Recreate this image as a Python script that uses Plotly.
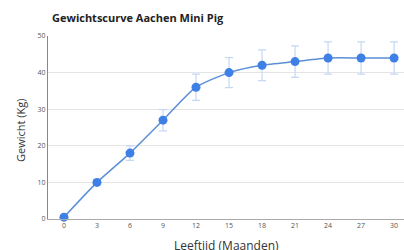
import plotly.graph_objects as go

months = [0, 3, 6, 9, 12, 15, 18, 21, 24, 27, 30]
weight = [0.5, 10, 18, 27, 36, 40, 42, 43, 44, 44, 44]
error = [0.3, 0.6, 2.0, 2.9, 3.6, 4.1, 4.2, 4.3, 4.4, 4.4, 4.4]
x_ticks = [0, 3, 6, 9, 12, 15, 18, 21, 24, 27, 30]
y_ticks = [0, 10, 20, 30, 40, 50]

fig = go.Figure()
fig.add_trace(go.Scatter(
    x=months, y=weight, mode="lines+markers",
    line=dict(color="#5b8fd6", width=1.5, shape="spline", smoothing=0.6),
    marker=dict(color="#3f80e6", size=9),
    error_y=dict(type="data", array=error, visible=True,
                 color="#c5d8f3", thickness=1.2, width=4),
    showlegend=False,
    cliponaxis=False,
))

W, H = 404, 250
L, R, T, B = 48, 0, 36, 31
pw, ph = W - L - R, H - T - B


def px(xp):
    return (xp - L) / pw


def py(yp):
    return (H - B - yp) / ph


fig.update_layout(
    width=W, height=H,
    margin=dict(l=L, r=R, t=T, b=B),
    paper_bgcolor="white", plot_bgcolor="white",
    font=dict(family="Open Sans", color="#444"),
    xaxis=dict(range=[-1.45, 30.9], tickvals=x_ticks, showgrid=False,
               showline=True, linecolor="#aaaaaa", linewidth=1, automargin=False,
               tickfont=dict(size=7, color="#555"), ticks="", zeroline=False),
    yaxis=dict(range=[0, 50], tickvals=y_ticks, showgrid=True, gridcolor="#e4e4e4",
               showline=True, linecolor="#888888", linewidth=1, automargin=False,
               tickfont=dict(size=7, color="#555"), ticks="", zeroline=False),
)
fig.add_annotation(text="<b>Gewichtscurve Aachen Mini Pig</b>", xref="paper", yref="paper",
                   x=px(50), y=py(17), xanchor="left", yanchor="middle", showarrow=False,
                   font=dict(size=11, color="#222", family="Open Sans"))
fig.add_annotation(text="Gewicht (Kg)", xref="paper", yref="paper", textangle=-90,
                   x=px(20), y=py(131), xanchor="center", yanchor="middle", showarrow=False,
                   font=dict(size=11, color="#333", family="Open Sans"))
fig.add_annotation(text="Leeftijd (Maanden)", xref="paper", yref="paper",
                   x=px(226), y=py(245), xanchor="center", yanchor="middle",
                   showarrow=False, font=dict(size=12, color="#333", family="Open Sans"))

fig.write_html("out.html", config={"displayModeBar": False},
               post_script="document.body.style.margin='0';")
